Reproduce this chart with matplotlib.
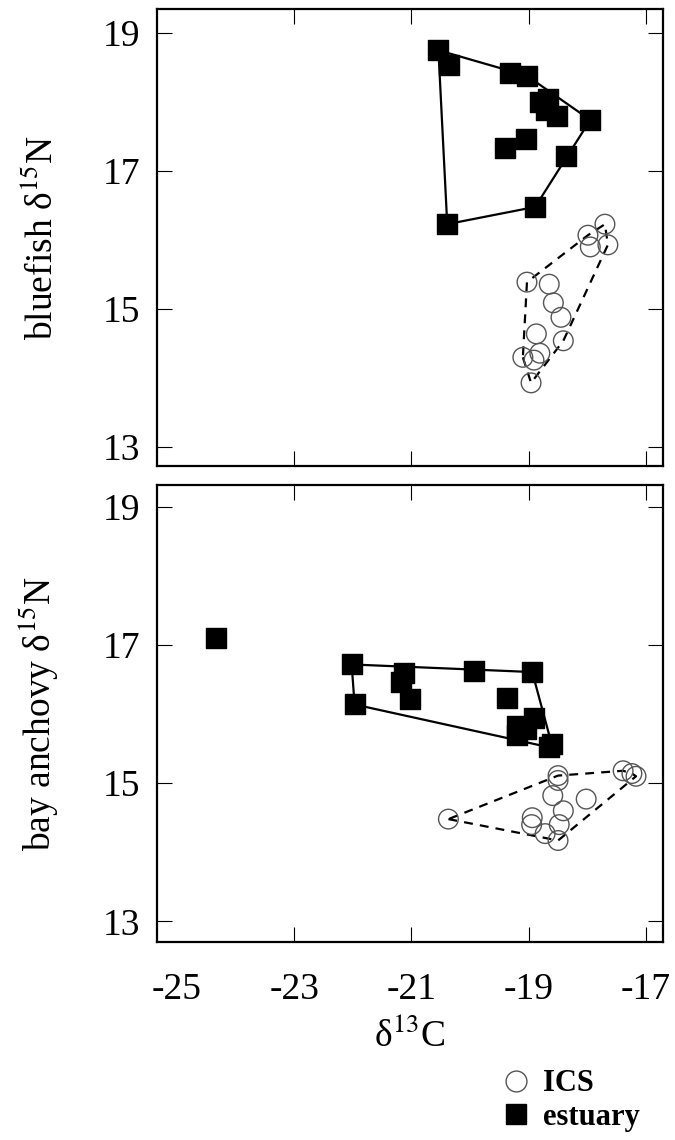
import numpy as np
import matplotlib
matplotlib.use("Agg")
import matplotlib.pyplot as plt
from matplotlib.lines import Line2D

plt.rcParams['font.family'] = ['Liberation Serif', 'DejaVu Serif']
plt.rcParams['mathtext.fontset'] = 'stix'
plt.rcParams['axes.unicode_minus'] = False

# bluefish: estuary (filled squares) and ICS (open circles)
bf_est_c = [-20.54, -20.36, -19.32, -19.03, -18.81, -18.67, -18.70, -18.52,
            -17.95, -19.04, -19.40, -18.36, -18.89, -20.39]
bf_est_n = [18.75, 18.54, 18.42, 18.38, 18.00, 18.05, 17.88, 17.80,
            17.74, 17.47, 17.34, 17.22, 16.48, 16.23]
bf_ics_c = [-17.70, -17.99, -17.95, -17.65, -19.03, -18.65, -18.58, -18.45,
            -18.87, -18.41, -19.10, -18.81, -18.91, -18.96]
bf_ics_n = [16.23, 16.07, 15.90, 15.93, 15.39, 15.36, 15.09, 14.88,
            14.64, 14.54, 14.30, 14.36, 14.26, 13.93]

# bay anchovy
ba_est_c = [-22.02, -21.12, -21.18, -21.03, -21.97, -19.94, -18.94, -19.37,
            -18.91, -19.20, -19.20, -19.05, -18.61, -18.65]
ba_est_n = [16.72, 16.59, 16.46, 16.22, 16.14, 16.63, 16.61, 16.24,
            15.94, 15.83, 15.70, 15.78, 15.57, 15.52]
ba_out_c = [-24.33]   # left out of the hull
ba_out_n = [17.10]
ba_ics_c = [-20.37, -18.50, -17.39, -17.17, -17.24, -18.50, -18.59, -18.02,
            -18.41, -18.94, -18.95, -18.48, -18.72, -18.50]
ba_ics_n = [14.48, 15.11, 15.18, 15.10, 15.14, 15.04, 14.82, 14.77,
            14.60, 14.50, 14.40, 14.40, 14.27, 14.17]

xticks = [-25, -23, -21, -19, -17]
yticks = [13, 15, 17, 19]


def hull(xs, ys):
    # monotone chain convex hull, returned closed
    pts = sorted(set(zip(xs, ys)))

    def cross(o, a, b):
        return (a[0] - o[0]) * (b[1] - o[1]) - (a[1] - o[1]) * (b[0] - o[0])

    lower, upper = [], []
    for p in pts:
        while len(lower) >= 2 and cross(lower[-2], lower[-1], p) <= 0:
            lower.pop()
        lower.append(p)
    for p in reversed(pts):
        while len(upper) >= 2 and cross(upper[-2], upper[-1], p) <= 0:
            upper.pop()
        upper.append(p)
    h = lower[:-1] + upper[:-1]
    h.append(h[0])
    return np.array(h)


def panel(ax, ec, en, ic, inn, ylabel, ylim):
    he = hull(ec, en)
    hi = hull(ic, inn)
    ax.plot(he[:, 0], he[:, 1], color='black', lw=1.6, zorder=1)
    ax.plot(hi[:, 0], hi[:, 1], color='black', lw=1.6, ls=(0, (4, 3.2)), zorder=1)
    ax.scatter(ic, inn, s=200, marker='o', facecolors='none',
               edgecolors='#555555', linewidths=1.0, zorder=2)
    ax.scatter(ec, en, s=210, marker='s', color='black', zorder=3)
    ax.set_xlim(-25.34, -16.71)
    ax.set_ylim(*ylim)
    ax.set_xticks(xticks)
    ax.set_yticks(yticks)
    ax.tick_params(direction='in', top=True, right=True, length=11,
                   width=0.8, labelsize=27)
    ax.tick_params(axis='y', pad=12)
    ax.tick_params(axis='x', pad=22)
    ax.xaxis.get_major_ticks()[0].tick1line.set_visible(False)
    ax.xaxis.get_major_ticks()[0].tick2line.set_visible(False)
    for s in ax.spines.values():
        s.set_linewidth(1.6)
    ax.set_ylabel(ylabel, fontsize=27, labelpad=30)


fig = plt.figure(figsize=(6.75, 11.4), dpi=100)
ax1 = fig.add_axes([0.2326, 0.5912, 0.7496, 0.4009])
ax2 = fig.add_axes([0.2326, 0.1737, 0.7496, 0.4009])

panel(ax1, bf_est_c, bf_est_n, bf_ics_c, bf_ics_n,
      'bluefish δ$^{15}$N', (12.725, 19.348))
ax1.set_xticklabels([])

panel(ax2, ba_est_c, ba_est_n, ba_ics_c, ba_ics_n,
      'bay anchovy δ$^{15}$N', (12.70, 19.32))
ax2.scatter(ba_out_c, ba_out_n, s=210, marker='s', color='black', zorder=3)
ax2.set_xlabel('δ$^{13}$C', fontsize=27, labelpad=8)

handles = [
    Line2D([], [], ls='none', marker='o', markersize=15, markerfacecolor='none',
           markeredgecolor='#555555', markeredgewidth=1.0),
    Line2D([], [], ls='none', marker='s', markersize=15, color='black'),
]
fig.legend(handles, ['ICS', 'estuary'], loc='upper left',
           bbox_to_anchor=(0.723, 0.0755), frameon=False, handlelength=0.8,
           handletextpad=0.5, labelspacing=0.15, borderpad=0,
           prop={'weight': 'bold', 'size': 22})

fig.savefig('out.png', dpi=100)
